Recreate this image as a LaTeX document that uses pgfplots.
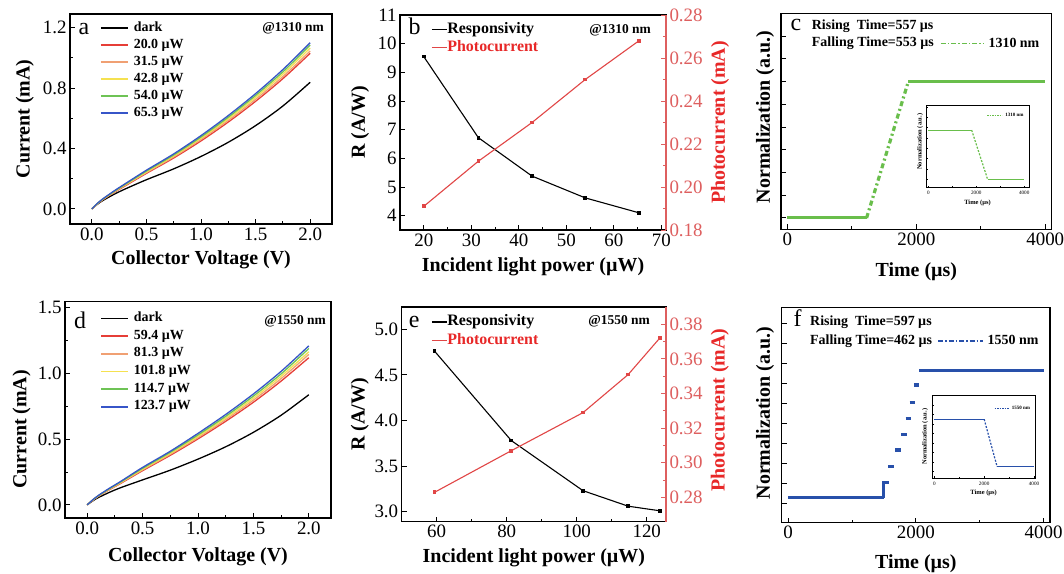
\documentclass[border=0pt]{standalone}
\usepackage{fontspec}
\setmainfont{Liberation Serif}
\usepackage{pgfplots}
\usepackage{pgfplotstable}
\pgfplotsset{compat=1.18}

\definecolor{cRed}{RGB}{230,62,55}
\definecolor{cOrange}{RGB}{240,160,115}
\definecolor{cYellow}{RGB}{245,225,80}
\definecolor{cGreen}{RGB}{110,195,85}
\definecolor{cBlue}{RGB}{55,85,200}
\definecolor{pcRed}{RGB}{225,70,70}
\definecolor{axRed}{RGB}{222,95,95}
\definecolor{lblRed}{RGB}{232,40,40}
\definecolor{tGreen}{RGB}{105,190,75}
\definecolor{tBlue}{RGB}{40,80,170}

\newcommand{\fs}[1]{\fontsize{#1}{#1}\selectfont}

% I-V curves, 1310 nm
\pgfplotstableread{
x     dark  p1    p2    p3    p4    p5
0     0     0     0     0     0     0
0.05  0.030 0.032 0.033 0.034 0.035 0.036
0.1   0.055 0.060 0.062 0.063 0.064 0.066
0.2   0.095 0.107 0.110 0.112 0.114 0.117
0.3   0.130 0.150 0.154 0.157 0.160 0.164
0.5   0.193 0.235 0.240 0.245 0.250 0.256
0.75  0.265 0.337 0.344 0.351 0.357 0.364
1.0   0.347 0.450 0.460 0.468 0.476 0.485
1.25  0.441 0.575 0.586 0.597 0.607 0.618
1.5   0.551 0.712 0.725 0.738 0.751 0.763
1.75  0.681 0.862 0.876 0.892 0.907 0.922
2.0   0.838 1.030 1.045 1.065 1.085 1.100
}\ivA

% I-V curves, 1550 nm
\pgfplotstableread{
x     dark  p1    p2    p3    p4    p5
0     0     0     0     0     0     0
0.05  0.030 0.034 0.035 0.036 0.037 0.038
0.1   0.055 0.064 0.066 0.067 0.069 0.071
0.2   0.095 0.115 0.118 0.120 0.123 0.126
0.3   0.130 0.162 0.166 0.169 0.173 0.177
0.5   0.190 0.260 0.266 0.272 0.278 0.285
0.75  0.264 0.377 0.385 0.392 0.400 0.408
1.0   0.348 0.502 0.512 0.522 0.532 0.544
1.25  0.442 0.636 0.649 0.661 0.674 0.688
1.5   0.552 0.781 0.797 0.812 0.828 0.844
1.75  0.682 0.942 0.961 0.979 0.997 1.016
2.0   0.838 1.120 1.145 1.165 1.190 1.210
}\ivD

\pgfplotsset{
  panel/.style={
    scale only axis, anchor=south west,
    axis line style={line width=1.2bp},
    tick align=inside, xtick pos=left, ytick pos=left,
    major tick length=5bp, minor tick length=3bp,
    every tick/.style={black, line width=0.9bp},
    tick label style={font=\fs{19}},
    label style={font=\bfseries\fs{20}},
    /pgf/number format/assume math mode=true,
    xlabel style={anchor=center},
    ylabel style={anchor=center},
  },
  ivleg/.style={
    legend style={draw=none, fill=none, inner sep=0pt, font=\bfseries\fs{14},
      cells={anchor=west}, row sep=#1,
      nodes={inner sep=0pt, text height=9bp, text depth=3bp},
      /tikz/every odd column/.append style={column sep=5bp}},
    legend image code/.code={\draw[##1, line width=1.6bp] (0bp,0bp) -- (27bp,0bp);},
  },
  rleg/.style={
    legend style={draw=none, fill=none, inner sep=0pt, font=\bfseries\fs{16},
      cells={anchor=west}, row sep=3.8bp,
      nodes={inner sep=0pt, text height=11bp, text depth=3.5bp}},
    legend image code/.code={\draw[##1, line width=1.2bp] (0bp,0bp) -- (15bp,0bp);},
  },
  rax/.style={
    axis x line=none, axis y line*=right,
    ytick pos=right, yticklabel pos=right,
    y axis line style={axRed, line width=1.2bp},
    every tick/.style={axRed, line width=0.9bp},
    minor y tick num=1,
    ylabel={Photocurrent (mA)},
  },
  one/.style={/pgf/number format/.cd, fixed, fixed zerofill, precision=1},
  two/.style={/pgf/number format/.cd, fixed, fixed zerofill, precision=2},
}

\begin{document}
\begin{tikzpicture}
\fill[white] (0,0) rectangle (1064bp,574bp);
\useasboundingbox (0,0) rectangle (1064bp,574bp);

% ---------------- a ----------------
\begin{axis}[panel, ivleg=5bp, at={(70bp,350bp)}, width=262bp, height=210bp,
  xmin=-0.2, xmax=2.2, ymin=-0.1, ymax=1.29,
  xtick={0,0.5,...,2}, ytick={0,0.4,0.8,1.2},
  minor x tick num=1, minor y tick num=1,
  xticklabel style={one}, yticklabel style={one},
  xlabel={Collector Voltage (V)}, ylabel={Current (mA)},
  xlabel style={at={(axis description cs:0.5,-0.171)}},
  ylabel style={at={(axis description cs:-0.172,0.5)}},
  legend style={at={(axis description cs:0.1145,0.962)}, anchor=north west}]
\addplot[black, line width=1.3bp, smooth] table[x=x,y=dark]{\ivA};
\addplot[cRed, line width=1.3bp, smooth] table[x=x,y=p1]{\ivA};
\addplot[cOrange, line width=1.3bp, smooth] table[x=x,y=p2]{\ivA};
\addplot[cYellow, line width=1.3bp, smooth] table[x=x,y=p3]{\ivA};
\addplot[cGreen, line width=1.3bp, smooth] table[x=x,y=p4]{\ivA};
\addplot[cBlue, line width=1.3bp, smooth] table[x=x,y=p5]{\ivA};
\legend{dark, 20.0 µW, 31.5 µW, 42.8 µW, 54.0 µW, 65.3 µW}
\end{axis}

% ---------------- b ----------------
\begin{axis}[panel, at={(400bp,344bp)}, width=266bp, height=215bp,
  xmin=15, xmax=71, ymin=3.5, ymax=11,
  xtick={20,30,...,70}, ytick={4,...,11}, minor x tick num=1,
  xlabel={Incident light power (µW)}, ylabel={R (A/W)},
  xlabel style={at={(axis description cs:0.5,-0.171)}},
  ylabel style={at={(axis description cs:-0.150,0.5)}}]
\addplot[black, line width=1.1bp, mark=square*, mark size=1.3bp] coordinates {
  (20,9.55) (31.5,6.72) (42.8,5.38) (54.0,4.62) (65.3,4.10)};
\end{axis}
\begin{axis}[panel, rleg, rax, at={(400bp,344bp)}, width=266bp, height=215bp,
  xmin=15, xmax=71, ymin=0.18, ymax=0.28,
  ytick={0.18,0.2,0.22,0.24,0.26,0.28},
  yticklabel style={text=axRed, two},
  ylabel style={at={(axis description cs:1.203,0.5)}, text=lblRed},
  legend style={at={(axis description cs:0.1165,0.967)}, anchor=north west}]
\addlegendimage{black}
\addlegendentry{Responsivity}
\addplot[pcRed, line width=1.1bp, mark=square*, mark size=1.3bp] coordinates {
  (20,0.191) (31.5,0.212) (42.8,0.230) (54.0,0.250) (65.3,0.268)};
\addlegendentry{\textcolor{lblRed}{Photocurrent}}
\end{axis}

% ---------------- c ----------------
\begin{axis}[panel, at={(781bp,344.7bp)}, width=270.7bp, height=216bp,
  xmin=-100, xmax=4100, ymin=-0.5, ymax=9,
  xtick={0,2000,4000}, minor x tick num=1, scaled x ticks=false,
  xticklabel style={/pgf/number format/set thousands separator={}},
  ytick={0,...,8}, yticklabels={},
  xlabel={Time (µs)}, ylabel={Normalization (a.u.)},
  xlabel style={at={(axis description cs:0.5,-0.196)}},
  ylabel style={at={(axis description cs:-0.059,0.52)}},
  legend style={draw=none, fill=none, inner sep=0pt, font=\bfseries\fs{14},
    at={(axis description cs:0.587,0.861)}, anchor=west,
    /tikz/every odd column/.append style={column sep=2bp}},
  legend image code/.code={\draw[#1] (0bp,0bp) -- (43bp,0bp);}]
\addplot[tGreen, line width=3bp, forget plot] coordinates {(0,0) (1228,0)};
\addplot[tGreen, line width=3.2bp, dash pattern=on 5bp off 3bp on 2bp off 3bp, forget plot]
  coordinates {(1228,0) (1876,6)};
\addplot[tGreen, line width=3bp, forget plot] coordinates {(1876,6) (4000,6)};
\addlegendimage{tGreen, line width=1.5bp, dash pattern=on 5bp off 2bp on 1.5bp off 2bp}
\addlegendentry{1310 nm}
\end{axis}

% inset c
\begin{axis}[panel, at={(926bp,386.3bp)}, width=103bp, height=82.7bp,
  axis background/.style={fill=white},
  xmin=-100, xmax=4200, ymin=-0.17, ymax=1.51,
  axis line style={line width=0.5bp}, every tick/.style={black, line width=0.4bp},
  major tick length=2bp, minor tick length=1.2bp,
  xtick={0,2000,4000}, minor x tick num=1, scaled x ticks=false,
  xticklabel style={/pgf/number format/set thousands separator={}},
  ytick={0,0.21,...,1.5}, yticklabels={},
  tick label style={font=\fs{5.2}}, label style={font=\bfseries\fs{6.5}},
  xlabel={Time (µs)}, ylabel={Normalization (a.u.)},
  xlabel style={at={(axis description cs:0.5,-0.189)}},
  ylabel style={at={(axis description cs:-0.058,0.556)}},
  legend style={draw=none, fill=none, inner sep=0pt, font=\bfseries\fs{5},
    at={(axis description cs:0.589,0.871)}, anchor=west,
    /tikz/every odd column/.append style={column sep=1bp}},
  legend image code/.code={\draw[#1] (0bp,0bp) -- (15bp,0bp);}]
\addplot[tGreen, line width=1.2bp, forget plot] coordinates {(0,1) (1805,1)};
\addplot[tGreen, line width=1.2bp, dash pattern=on 2bp off 1.5bp, forget plot]
  coordinates {(1805,1) (2472,0)};
\addplot[tGreen, line width=1.2bp, forget plot] coordinates {(2472,0) (4000,0)};
\addlegendimage{tGreen, line width=0.6bp, dash pattern=on 1.5bp off 1bp}
\addlegendentry{1310 nm}
\end{axis}

% ---------------- d ----------------
\begin{axis}[panel, ivleg=5.7bp, at={(65bp,56bp)}, width=266bp, height=216.3bp,
  xmin=-0.2, xmax=2.2, ymin=-0.1, ymax=1.546,
  xtick={0,0.5,...,2}, ytick={0,0.5,1.0,1.5},
  minor x tick num=1, minor y tick num=1,
  xticklabel style={one}, yticklabel style={one},
  xlabel={Collector Voltage (V)}, ylabel={Current (mA)},
  xlabel style={at={(axis description cs:0.5,-0.179)}},
  ylabel style={at={(axis description cs:-0.163,0.41)}},
  legend style={at={(axis description cs:0.132,0.951)}, anchor=north west}]
\addplot[black, line width=1.3bp, smooth] table[x=x,y=dark]{\ivD};
\addplot[cRed, line width=1.3bp, smooth] table[x=x,y=p1]{\ivD};
\addplot[cOrange, line width=1.3bp, smooth] table[x=x,y=p2]{\ivD};
\addplot[cYellow, line width=1.3bp, smooth] table[x=x,y=p3]{\ivD};
\addplot[cGreen, line width=1.3bp, smooth] table[x=x,y=p4]{\ivD};
\addplot[cBlue, line width=1.3bp, smooth] table[x=x,y=p5]{\ivD};
\legend{dark, 59.4 µW, 81.3 µW, 101.8 µW, 114.7 µW, 123.7 µW}
\end{axis}

% ---------------- e ----------------
\begin{axis}[panel, at={(401.7bp,52.3bp)}, width=264.3bp, height=214.7bp,
  xmin=50, xmax=125.5, ymin=2.89, ymax=5.245,
  xtick={60,80,100,120}, ytick={3,3.5,...,5}, minor x tick num=1,
  yticklabel style={one},
  xlabel={Incident light power (µW)}, ylabel={R (A/W)},
  xlabel style={at={(axis description cs:0.5,-0.170)}},
  ylabel style={at={(axis description cs:-0.158,0.5)}}]
\addplot[black, line width=1.1bp, mark=square*, mark size=1.3bp] coordinates {
  (59.4,4.76) (81.3,3.78) (101.8,3.23) (114.7,3.06) (123.7,3.01)};
\end{axis}
\begin{axis}[panel, rleg, rax, at={(401.7bp,52.3bp)}, width=264.3bp, height=214.7bp,
  xmin=50, xmax=125.5, ymin=0.266, ymax=0.39,
  ytick={0.28,0.3,0.32,0.34,0.36,0.38},
  yticklabel style={text=axRed, two},
  ylabel style={at={(axis description cs:1.204,0.52)}, text=lblRed},
  legend style={at={(axis description cs:0.111,0.965)}, anchor=north west}]
\addlegendimage{black}
\addlegendentry{Responsivity}
\addplot[pcRed, line width=1.1bp, mark=square*, mark size=1.3bp] coordinates {
  (59.4,0.283) (81.3,0.307) (101.8,0.329) (114.7,0.351) (123.7,0.372)};
\addlegendentry{\textcolor{lblRed}{Photocurrent}}
\end{axis}

% ---------------- f ----------------
\begin{axis}[panel, at={(781.7bp,51.3bp)}, width=268.3bp, height=215bp,
  xmin=-100, xmax=4100, ymin=-0.97, ymax=9.78,
  xtick={0,2000,4000}, minor x tick num=1, scaled x ticks=false,
  xticklabel style={/pgf/number format/set thousands separator={}},
  ytick={0,...,9}, yticklabels={},
  xlabel={Time (µs)}, ylabel={Normalization (a.u.)},
  xlabel style={at={(axis description cs:0.5,-0.189)}},
  ylabel style={at={(axis description cs:-0.062,0.509)}},
  unbounded coords=jump,
  legend style={draw=none, fill=none, inner sep=0pt, font=\bfseries\fs{14},
    at={(axis description cs:0.579,0.845)}, anchor=west,
    /tikz/every odd column/.append style={column sep=2bp}},
  legend image code/.code={\draw[#1] (0bp,0bp) -- (45bp,0bp);}]
\addplot[tBlue, line width=3bp, forget plot] coordinates {(0,0.28) (1496,0.28)};
\addplot[tBlue, line width=3.4bp, forget plot] coordinates {
  (1496,0.28) (1496,1.05) (1583,1.05) (1584,nan)
  (1565,1.83) (1655,1.83) (1656,nan)
  (1680,2.67) (1770,2.67) (1771,nan)
  (1773,3.45) (1863,3.45) (1864,nan)
  (1841,4.25) (1931,4.25) (1932,nan)
  (1903,5.05) (1993,5.05) (1994,nan)
  (1970,5.92) (2050,5.92)};
\addplot[tBlue, line width=3bp, forget plot] coordinates {(2052,6.62) (4000,6.62)};
\addlegendimage{tBlue, line width=1.5bp, dash pattern=on 5bp off 2bp on 1.5bp off 2bp}
\addlegendentry{1550 nm}
\end{axis}

% inset f
\begin{axis}[panel, at={(932.3bp,95.7bp)}, width=102.7bp, height=83.3bp,
  axis background/.style={fill=white},
  xmin=-80, xmax=4040, ymin=-0.245, ymax=1.51,
  axis line style={line width=0.5bp}, every tick/.style={black, line width=0.4bp},
  major tick length=2bp, minor tick length=1.2bp,
  xtick={0,2000,4000}, minor x tick num=1, scaled x ticks=false,
  xticklabel style={/pgf/number format/set thousands separator={}},
  ytick={-0.1,0.1,...,1.5}, yticklabels={},
  tick label style={font=\fs{5.2}}, label style={font=\bfseries\fs{6.5}},
  xlabel={Time (µs)}, ylabel={Normalization (a.u.)},
  xlabel style={at={(axis description cs:0.5,-0.18)}},
  ylabel style={at={(axis description cs:-0.071,0.5)}},
  legend style={draw=none, fill=none, inner sep=0pt, font=\bfseries\fs{5},
    at={(axis description cs:0.601,0.84)}, anchor=west,
    /tikz/every odd column/.append style={column sep=1bp}},
  legend image code/.code={\draw[#1] (0bp,0bp) -- (14bp,0bp);}]
\addplot[tBlue, line width=1.2bp, forget plot] coordinates {(0,1) (2000,1)};
\addplot[tBlue, line width=1.2bp, dash pattern=on 2bp off 1.5bp, forget plot]
  coordinates {(2000,1) (2520,0)};
\addplot[tBlue, line width=1.2bp, forget plot] coordinates {(2520,0) (4000,0)};
\addlegendimage{tBlue, line width=0.6bp, dash pattern=on 1.5bp off 1bp}
\addlegendentry{1550 nm}
\end{axis}

% panel letters and annotations
\node[font=\fs{24}] at (84bp,545bp) {a};
\node[font=\fs{24}] at (414.7bp,547.3bp) {b};
\node[font=\fs{24}] at (796bp,549bp) {c};
\node[font=\fs{24}] at (80bp,254bp) {d};
\node[font=\fs{24}] at (414.3bp,252.3bp) {e};
\node[font=\fs{24}] at (797.7bp,255.7bp) {f};

\node[anchor=east, font=\bfseries\fs{13.5}, inner sep=0pt] at (324bp,545.7bp) {@1310 nm};
\node[anchor=east, font=\bfseries\fs{13.5}, inner sep=0pt] at (651bp,544bp) {@1310 nm};
\node[anchor=east, font=\bfseries\fs{13.5}, inner sep=0pt] at (326bp,253bp) {@1550 nm};
\node[anchor=east, font=\bfseries\fs{13.5}, inner sep=0pt] at (650bp,252.3bp) {@1550 nm};

\node[anchor=west, font=\bfseries\fs{14}, inner sep=0pt] at (811.7bp,547.3bp) {Rising\ \ Time=557 µs};
\node[anchor=west, font=\bfseries\fs{14}, inner sep=0pt] at (811.7bp,530.7bp) {Falling Time=553 µs};
\node[anchor=west, font=\bfseries\fs{14}, inner sep=0pt] at (810bp,251.3bp) {Rising\ \ Time=597 µs};
\node[anchor=west, font=\bfseries\fs{14}, inner sep=0pt] at (810bp,233bp) {Falling Time=462 µs};
\end{tikzpicture}
\end{document}
